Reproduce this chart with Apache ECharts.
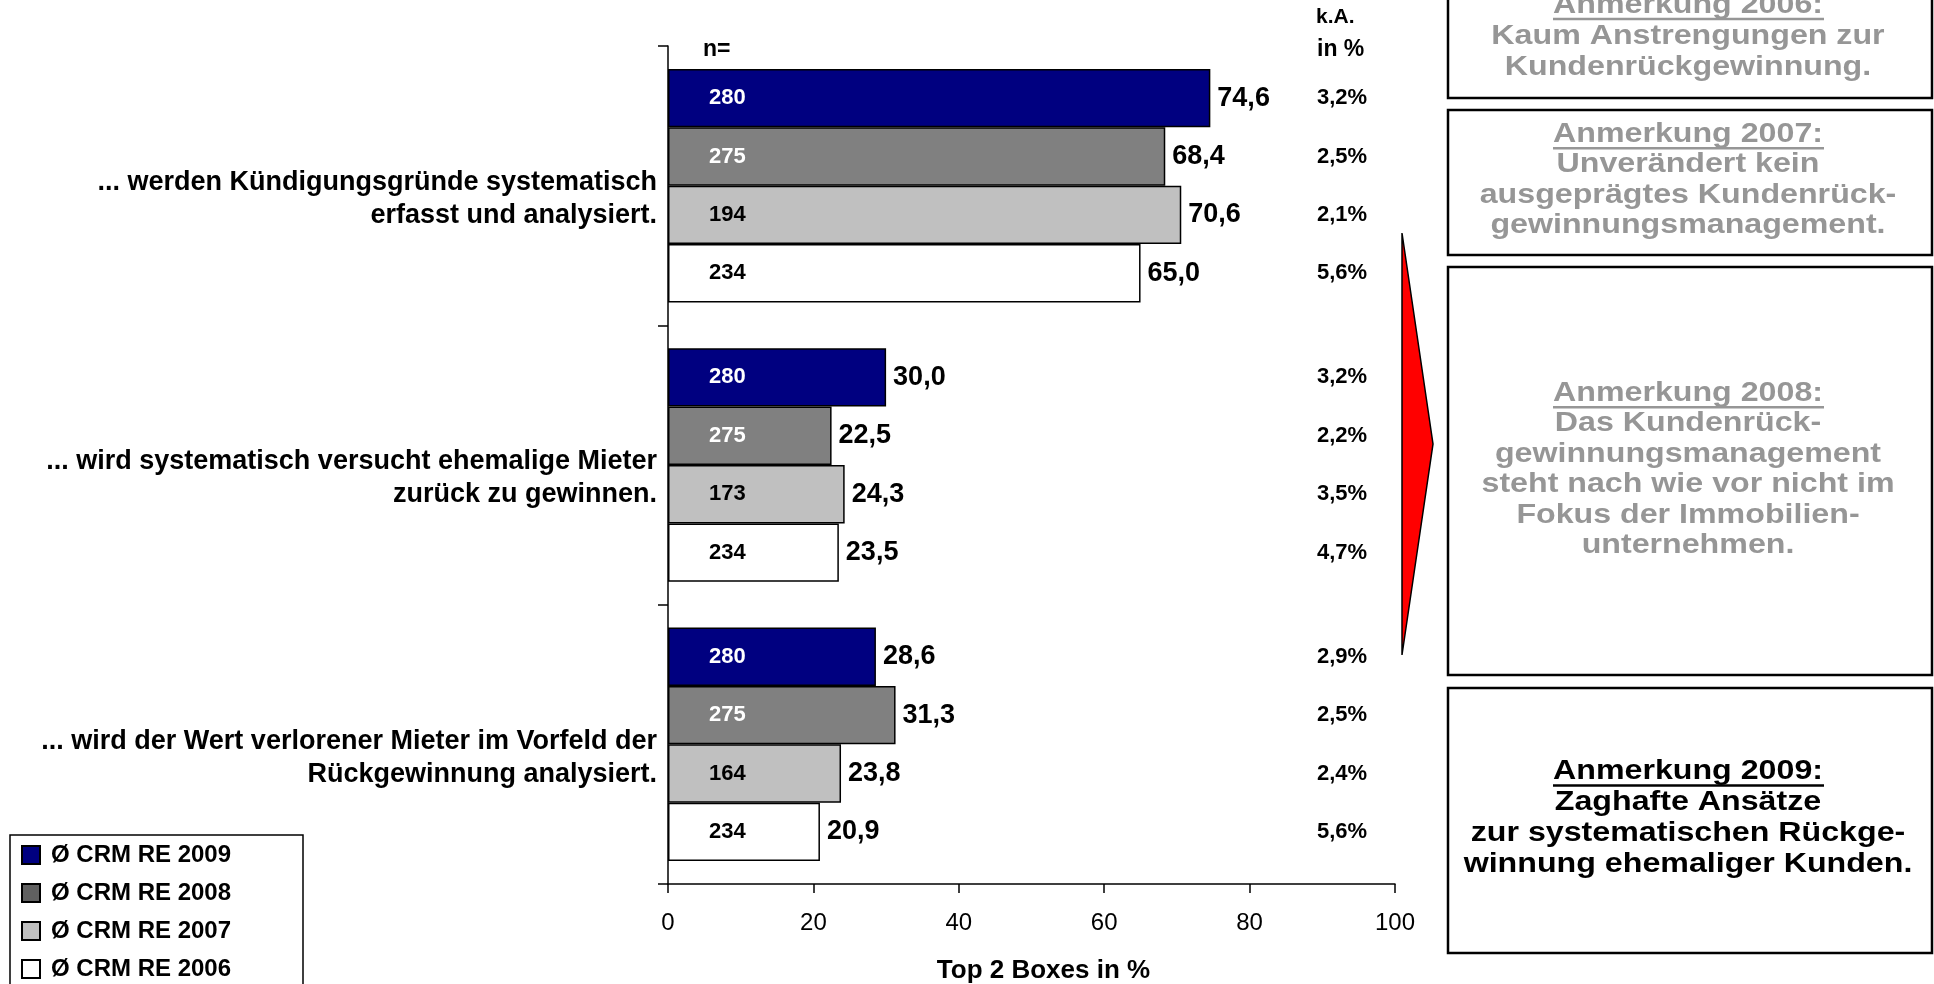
<!DOCTYPE html>
<html>
<head>
<meta charset="utf-8">
<title>Kundenrückgewinnung</title>
<script src="https://cdn.jsdelivr.net/npm/echarts@6/dist/echarts.min.js"></script>
<style>
  html, body { margin: 0; padding: 0; background: #fff; }
  #chart { width: 1934px; height: 984px; }
</style>
</head>
<body>
<div id="chart"></div>
<script>
// Daten
const categories = [
  "... werden Kündigungsgründe systematisch\nerfasst und analysiert.",
  "... wird systematisch versucht ehemalige Mieter\nzurück zu gewinnen.",
  "... wird der Wert verlorener Mieter im Vorfeld der\nRückgewinnung analysiert."
];
const years = ["Ø CRM RE 2009", "Ø CRM RE 2008", "Ø CRM RE 2007", "Ø CRM RE 2006"];

const values2009 = [74.6, 30.0, 28.6];
const values2008 = [68.4, 22.5, 31.3];
const values2007 = [70.6, 24.3, 23.8];
const values2006 = [65.0, 23.5, 20.9];

const n2009 = [280, 280, 280];
const n2008 = [275, 275, 275];
const n2007 = [194, 173, 164];
const n2006 = [234, 234, 234];

const ka2009 = [3.2, 3.2, 2.9];
const ka2008 = [2.5, 2.2, 2.5];
const ka2007 = [2.1, 3.5, 2.4];
const ka2006 = [5.6, 4.7, 5.6];

// Basis für die n / k.A. Beschriftung (Balken der Länge 0)
const stackBase = [0, 0, 0];

const barValues = [values2009, values2008, values2007, values2006];
const nValues = [n2009, n2008, n2007, n2006];
const kaValues = [ka2009, ka2008, ka2007, ka2006];

const barColors = ["#000080", "#808080", "#C0C0C0", "#FFFFFF"];
const legendColors = ["#000080", "#606060", "#C0C0C0", "#FFFFFF"];
const nColors = ["#FFFFFF", "#FFFFFF", "#000000", "#000000"];
const FONT = "'Liberation Sans', Arial, sans-serif";
const GREY = "#969696";

const fmt = (v) => v.toFixed(1).replace(".", ",");

const chart = echarts.init(document.getElementById("chart"));

const series = [];
years.forEach((name, i) => {
  const stack = "s" + i;
  // unsichtbarer Basis-Balken: trägt n= und k.A.
  series.push({
    name: name + " n",
    type: "bar",
    stack,
    silent: true,
    data: stackBase,
    itemStyle: { color: "rgba(0,0,0,0)", borderWidth: 0 },
    label: {
      show: true,
      position: "right",
      distance: 41,
      formatter: (p) =>
        `{n|${nValues[i][p.dataIndex]}}{k|${fmt(kaValues[i][p.dataIndex])}%}`,
      rich: {
        n: { width: 608, fontSize: 22, fontWeight: "bold", color: nColors[i], fontFamily: FONT },
        k: { fontSize: 22, fontWeight: "bold", color: "#000", fontFamily: FONT }
      }
    }
  });
  series.push({
    name,
    type: "bar",
    stack,
    data: barValues[i],
    barCategoryGap: "16.4%",
    barGap: 0,
    itemStyle: { color: barColors[i], borderColor: "#000", borderWidth: 1.5 },
    label: {
      show: true,
      position: "right",
      distance: 7,
      formatter: (p) => fmt(p.value),
      fontSize: 27,
      fontWeight: "bold",
      color: "#000",
      fontFamily: FONT
    }
  });
});

// Anmerkungskästen rechts
const notes = [
  { y: -40, h: 138, textY: -10.5, color: GREY, lh: 31,
    text: "Anmerkung 2006:\nKaum Anstrengungen zur\nKundenrückgewinnung." },
  { y: 110, h: 145, textY: 119, color: GREY, lh: 30.5,
    text: "Anmerkung 2007:\nUnverändert kein\nausgeprägtes Kundenrück-\ngewinnungsmanagement." },
  { y: 267, h: 408, textY: 378, color: GREY, lh: 30.5,
    text: "Anmerkung 2008:\nDas Kundenrück-\ngewinnungsmanagement\nsteht nach wie vor nicht im\nFokus der Immobilien-\nunternehmen." },
  { y: 688, h: 265, textY: 756, color: "#000", lh: 31,
    text: "Anmerkung 2009:\nZaghafte Ansätze\nzur systematischen Rückge-\nwinnung ehemaliger Kunden." }
];

const graphic = [];
notes.forEach((nt) => {
  graphic.push({
    type: "rect",
    shape: { x: 1448, y: nt.y, width: 484, height: nt.h },
    style: { fill: "#fff", stroke: "#000", lineWidth: 2.5 },
    z: 1
  });
  graphic.push({
    type: "text",
    x: 1688,
    y: nt.textY,
    scaleX: 1.17,
    style: {
      text: nt.text,
      fill: nt.color,
      fontSize: 27.5,
      fontWeight: "bold",
      fontFamily: FONT,
      lineHeight: nt.lh,
      align: "center",
      verticalAlign: "top"
    },
    z: 2
  });
  const ul = nt.textY + nt.lh / 2 + 14;
  graphic.push({
    type: "line",
    shape: { x1: 1553, y1: ul, x2: 1824, y2: ul },
    style: { stroke: nt.color, lineWidth: 2.5 },
    z: 2
  });
});

// roter Pfeil
graphic.push({
  type: "polygon",
  shape: { points: [[1402, 233], [1433, 444], [1402, 655]] },
  style: { fill: "#FF0000", stroke: "#000", lineWidth: 1.5 },
  z: 1
});

// Spaltenköpfe
graphic.push({
  type: "text", x: 703, y: 50,
  style: { text: "n=", fontSize: 23, fontWeight: "bold", fontFamily: FONT, fill: "#000",
           align: "left", verticalAlign: "middle" }
});
graphic.push({
  type: "text", x: 1316, y: 17,
  style: { text: "k.A.", fontSize: 21, fontWeight: "bold", fontFamily: FONT, fill: "#000",
           align: "left", verticalAlign: "middle" }
});
graphic.push({
  type: "text", x: 1317, y: 50,
  style: { text: "in %", fontSize: 23, fontWeight: "bold", fontFamily: FONT, fill: "#000",
           align: "left", verticalAlign: "middle" }
});

// Legendenrahmen
graphic.push({
  type: "rect",
  shape: { x: 10, y: 835, width: 293, height: 200 },
  style: { fill: "none", stroke: "#000", lineWidth: 1.5 },
  z: 0
});

const option = {
  animation: false,
  backgroundColor: "#fff",
  grid: { left: 668, right: 539, top: 46, bottom: 100, outerBoundsMode: "none" },
  legend: {
    data: years.map((name, i) => ({ name, itemStyle: { color: legendColors[i] } })),
    orient: "vertical",
    left: 16,
    top: 838,
    padding: [5, 5, 0, 5],
    itemWidth: 18,
    itemHeight: 18,
    itemGap: 14,
    icon: "rect",
    textStyle: {
      fontSize: 24,
      fontWeight: "bold",
      color: "#000",
      fontFamily: FONT,
      padding: [0, 0, 0, 6]
    }
  },
  xAxis: {
    type: "value",
    min: 0,
    max: 100,
    interval: 20,
    name: "Top 2 Boxes in %",
    nameLocation: "middle",
    nameGap: 74,
    nameTextStyle: {
      fontSize: 26,
      fontWeight: "bold",
      color: "#000",
      fontFamily: FONT,
      padding: [0, 0, 0, 24]
    },
    axisLine: { show: true, lineStyle: { color: "#000", width: 1.5 } },
    axisTick: { show: true, length: 9, lineStyle: { color: "#000", width: 1.5 } },
    axisLabel: { fontSize: 24, color: "#000", fontFamily: FONT, margin: 27 },
    splitLine: { show: false }
  },
  yAxis: {
    type: "category",
    data: categories,
    inverse: true,
    axisLine: { show: true, lineStyle: { color: "#000", width: 1.5 } },
    axisTick: { show: true, length: 10, lineStyle: { color: "#000", width: 1.5 } },
    axisLabel: {
      align: "right",
      margin: 11,
      // leere erste Zeile schiebt den zweizeiligen Text etwas nach unten
      formatter: (v) => "{gap| }\n" + v.split("\n").map((s) => `{t|${s}}`).join("\n"),
      rich: {
        gap: { fontSize: 2, lineHeight: 27, align: "right" },
        t: {
          fontSize: 27,
          fontWeight: "bold",
          color: "#000",
          fontFamily: FONT,
          lineHeight: 33,
          align: "right"
        }
      }
    },
    splitLine: { show: false }
  },
  series,
  graphic
};

chart.setOption(option);
</script>
</body>
</html>
